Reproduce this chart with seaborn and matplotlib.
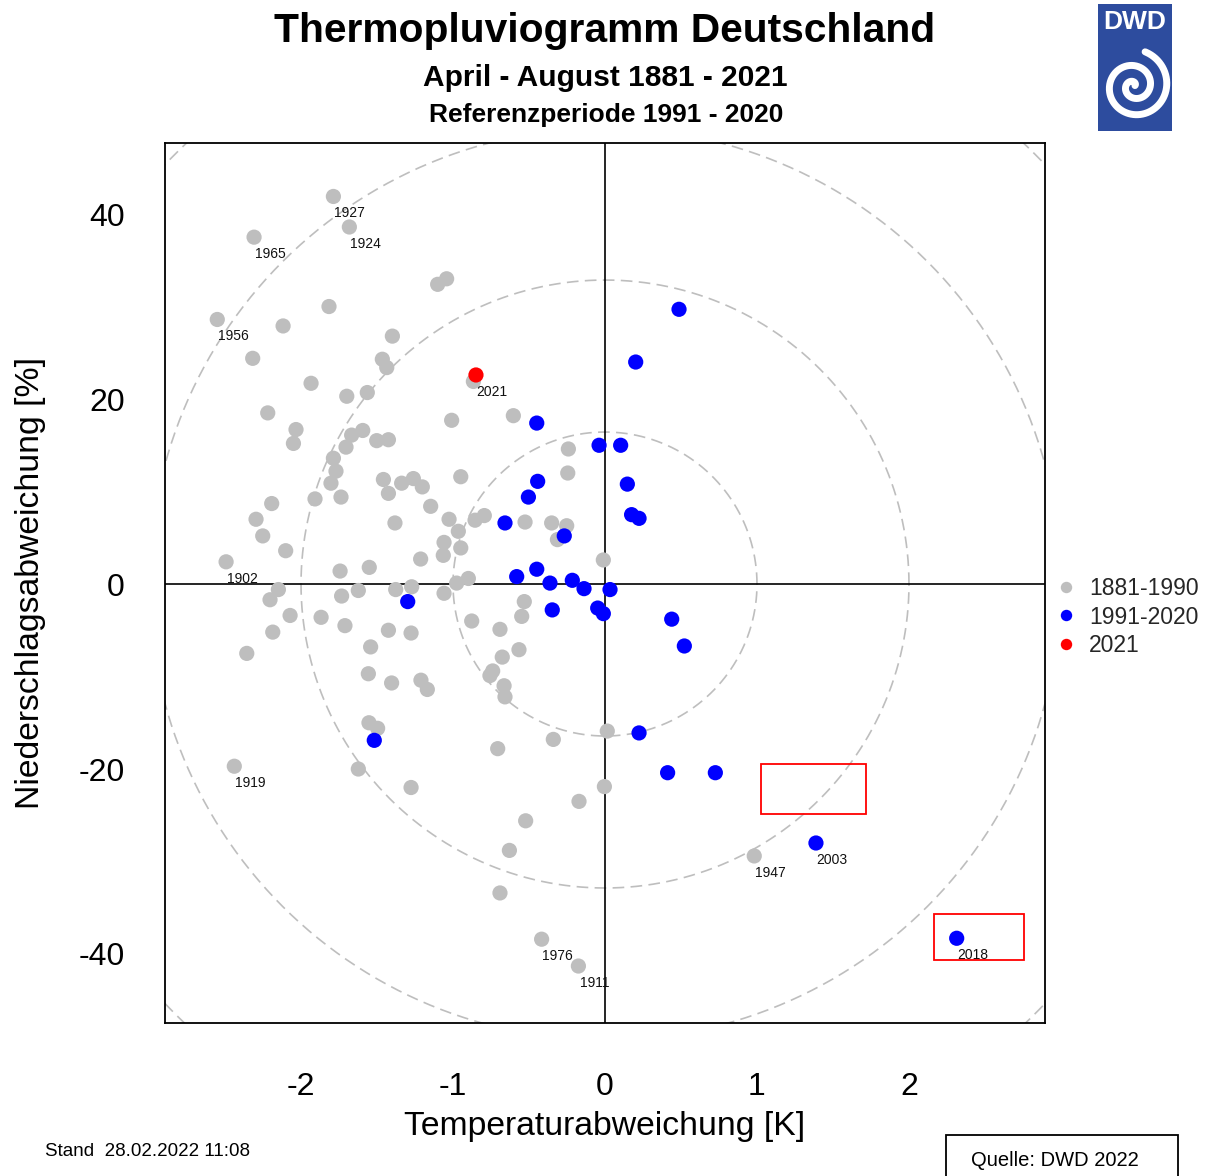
import numpy as np
import pandas as pd
import matplotlib
matplotlib.use("Agg")
import matplotlib.pyplot as plt
from matplotlib.patches import Rectangle
import seaborn as sns

# ---------------- data ----------------
gray_temp = [-1.787, -1.682, -2.309, -1.042, -1.101, -1.816, -2.551, -2.118, -1.399, -2.318,
             -1.465, -1.436, -1.934, -1.699, -1.564, -1.009, -2.219, -2.033, -1.667, -1.594,
             -1.502, -1.425, -2.050, -1.704, -1.787, -1.770, -1.803, -1.737, -1.458, -1.338,
             -1.261, -1.202, -1.425, -1.147, -0.949, -1.026, -0.965, -1.059, -1.064, -0.949,
             -1.382, -1.213, -1.908, -2.193, -2.296, -2.252, -2.101, -2.493, -1.743, -1.551,
             -2.149, -2.204, -1.733, -1.623, -1.377, -1.272, -1.059, -0.976, -2.072, -1.868,
             -1.711, -2.186, -1.425, -1.276, -1.542, -2.357, -1.557, -1.404, -1.211, -1.169,
             -1.553, -1.496, -2.439, -1.623, -1.276, -0.866, -0.603, -0.241, -0.245, -0.855,
             -0.794, -0.526, -0.351, -0.252, -0.313, -0.011, -0.899, -0.531, -0.548, -0.877,
             -0.691, -0.566, -0.676, -0.739, -0.757, -0.664, -0.658, 0.015, -0.340, -0.706,
             -0.004, -0.171, -0.522, -0.629, -0.691, -0.417, -0.175, 0.982]
gray_prec = [41.9, 38.6, 37.5, 33.0, 32.4, 30.0, 28.6, 27.9, 26.8, 24.4,
             24.3, 23.4, 21.7, 20.3, 20.7, 17.7, 18.5, 16.7, 16.1, 16.6,
             15.5, 15.6, 15.2, 14.8, 13.6, 12.2, 10.9, 9.4, 11.3, 10.9,
             11.4, 10.5, 9.8, 8.4, 11.6, 7.0, 5.7, 4.5, 3.1, 3.9,
             6.6, 2.7, 9.2, 8.7, 7.0, 5.2, 3.6, 2.4, 1.4, 1.8,
             -0.6, -1.7, -1.3, -0.7, -0.6, -0.3, -1.0, 0.1, -3.4, -3.6,
             -4.5, -5.2, -5.0, -5.3, -6.8, -7.5, -9.7, -10.7, -10.4, -11.4,
             -15.0, -15.6, -19.7, -20.0, -22.0, 21.9, 18.2, 14.6, 12.0, 6.9,
             7.4, 6.7, 6.6, 6.3, 4.8, 2.6, 0.6, -1.9, -3.5, -4.0,
             -4.9, -7.1, -7.9, -9.4, -9.9, -11.0, -12.2, -15.9, -16.8, -17.8,
             -21.9, -23.5, -25.6, -28.8, -33.4, -38.4, -41.3, -29.4]

blue_temp = [-1.298, -1.518, -0.449, 0.487, 0.202, -0.039, 0.103, -0.443, -0.504, 0.147,
             0.175, 0.224, -0.658, -0.268, -0.581, -0.449, -0.362, -0.215, -0.138, 0.033,
             -0.048, -0.011, -0.347, 0.439, 0.522, 0.224, 0.412, 0.726, 1.388, 2.314]
blue_prec = [-1.9, -16.9, 17.4, 29.7, 24.0, 15.0, 15.0, 11.1, 9.4, 10.8,
             7.5, 7.1, 6.6, 5.2, 0.8, 1.6, 0.1, 0.4, -0.5, -0.6,
             -2.6, -3.2, -2.8, -3.8, -6.7, -16.1, -20.4, -20.4, -28.0, -38.3]

red_temp = [-0.849]
red_prec = [22.6]

label_years = ["1927", "1924", "1965", "1956", "1902", "1919", "2021",
               "1976", "1911", "1947", "2003", "2018"]
label_temp = [-1.787, -1.682, -2.309, -2.551, -2.493, -2.439, -0.849,
              -0.417, -0.175, 0.982, 1.388, 2.314]
label_prec = [41.9, 38.6, 37.5, 28.6, 2.4, -19.7, 22.6,
              -38.4, -41.3, -29.4, -28.0, -38.3]

period_names = ["1881-1990", "1991-2020", "2021"]
period_colors = ["#BEBEBE", "#0000FF", "#FF0000"]

circle_radii = [1, 2, 3, 4]
box_x0 = [1.026, 2.166]
box_x1 = [1.717, 2.757]
box_y0 = [-24.9, -40.6]
box_y1 = [-19.5, -35.7]

x_ticks = [-2, -1, 0, 1, 2]
y_ticks = [-40, -20, 0, 20, 40]
xlim = (-2.895, 2.895)
ylim = (-47.46, 47.68)

# ---------------- table ----------------
df = pd.DataFrame({
    "temp": gray_temp + blue_temp + red_temp,
    "prec": gray_prec + blue_prec + red_prec,
    "period": [period_names[0]] * len(gray_temp)
              + [period_names[1]] * len(blue_temp)
              + [period_names[2]] * len(red_temp),
})

# ---------------- style ----------------
sns.set_style("white")
plt.rcParams["font.family"] = ["Liberation Sans", "DejaVu Sans"]

W, H = 1216, 1176
fig = plt.figure(figsize=(W / 100, H / 100), dpi=100)
L, R, T, B = 165, 1045, 143, 1023
ax = fig.add_axes([L / W, 1 - B / H, (R - L) / W, (B - T) / H])

ax.set_xlim(*xlim)
ax.set_ylim(*ylim)

# reference circles (circular on screen)
k = (ylim[1] - ylim[0]) / (xlim[1] - xlim[0]) * ((R - L) / (B - T))
t = np.linspace(0, 2 * np.pi, 721)
for r in circle_radii:
    ax.plot(r * np.cos(t), r * k * np.sin(t), color="#BEBEBE", lw=1.2,
            linestyle=(0, (7, 3.8)), zorder=1)

ax.axhline(0, color="black", lw=1.2, zorder=1.5)
ax.axvline(0, color="black", lw=1.2, zorder=1.5)

sns.scatterplot(data=df, x="temp", y="prec", hue="period",
                palette=dict(zip(period_names, period_colors)),
                hue_order=period_names, s=120, linewidth=0, alpha=1,
                ax=ax, zorder=3)

for yr, xv, yv in zip(label_years, label_temp, label_prec):
    ax.annotate(yr, (xv, yv), xytext=(11.5, -12.2), textcoords="offset points",
                ha="center", va="center", fontsize=10, color="#111111", zorder=4)

for x0, x1, y0, y1 in zip(box_x0, box_x1, box_y0, box_y1):
    ax.add_patch(Rectangle((x0, y0), x1 - x0, y1 - y0, fill=False,
                           edgecolor="#FF0000", lw=1.3, zorder=4))

# axes cosmetics
for sp in ax.spines.values():
    sp.set_color("black")
    sp.set_linewidth(1.3)
ax.set_xticks(x_ticks)
ax.set_yticks(y_ticks)
ax.set_xticklabels([str(v) for v in x_ticks])
ax.set_yticklabels([str(v) for v in y_ticks])
ax.tick_params(axis="both", direction="out", length=9, width=1.2,
               color="black", labelsize=23, labelcolor="black")
ax.tick_params(axis="x", pad=26)
ax.tick_params(axis="y", pad=20)
ax.set_xlabel("Temperaturabweichung [K]", fontsize=24.3, color="black")
ax.set_ylabel("Niederschlagsabweichung [%]", fontsize=24.3, color="black")
ax.xaxis.set_label_coords(0.5, -0.1)
ax.yaxis.set_label_coords(-0.135, 0.5)

# legend
handles, labels = ax.get_legend_handles_labels()
leg = ax.legend(handles, labels, loc="center left",
                bbox_to_anchor=(1055 / W, 1 - 617 / H), bbox_transform=fig.transFigure,
                frameon=False, fontsize=16.5, borderpad=0, borderaxespad=0,
                handlelength=1.0, handletextpad=0.5, labelspacing=0.26,
                markerscale=0.75, title=None)

# titles
fig.text(605 / W, 1 - 31 / H, "Thermopluviogramm Deutschland", ha="center", va="center",
         fontsize=29.3, fontweight="bold", color="black")
fig.text(605 / W, 1 - 78 / H, "April - August 1881 - 2021", ha="center", va="center",
         fontsize=21.5, fontweight="bold", color="black")
fig.text(606 / W, 1 - 115 / H, "Referenzperiode 1991 - 2020", ha="center", va="center",
         fontsize=19, fontweight="bold", color="black")

# footer
fig.text(45 / W, 1 - 1152 / H, "Stand  28.02.2022 11:08", ha="left", va="center",
         fontsize=13.5, color="black")
fig.patches.append(Rectangle((946 / W, -0.01), (1178 - 946) / W, 0.01 + (1 - 1135 / H),
                             transform=fig.transFigure, fill=False,
                             edgecolor="black", lw=1.3, figure=fig))
fig.text(1055 / W, 1 - 1160 / H, "Quelle: DWD 2022", ha="center", va="center",
         fontsize=14.5, color="black")

# DWD logo
lx0, lx1, ly0, ly1 = 1098, 1172, 4, 131
lax = fig.add_axes([lx0 / W, 1 - ly1 / H, (lx1 - lx0) / W, (ly1 - ly0) / H])
lax.set_xlim(0, lx1 - lx0)
lax.set_ylim(ly1 - ly0, 0)
lax.set_facecolor("#2D4C9E")
for sp in lax.spines.values():
    sp.set_visible(False)
lax.set_xticks([])
lax.set_yticks([])
lax.text(37, 18, "DWD", ha="center", va="center", fontsize=19, fontweight="bold",
         color="white")
th = np.linspace(0.4, 4.4 * np.pi, 500)
rr = 2.6 * th
lax.plot(36 + rr * np.cos(th), 82 - rr * np.sin(th), color="white", lw=5,
         solid_capstyle="round")

fig.savefig("out.png", dpi=100, facecolor="white")
